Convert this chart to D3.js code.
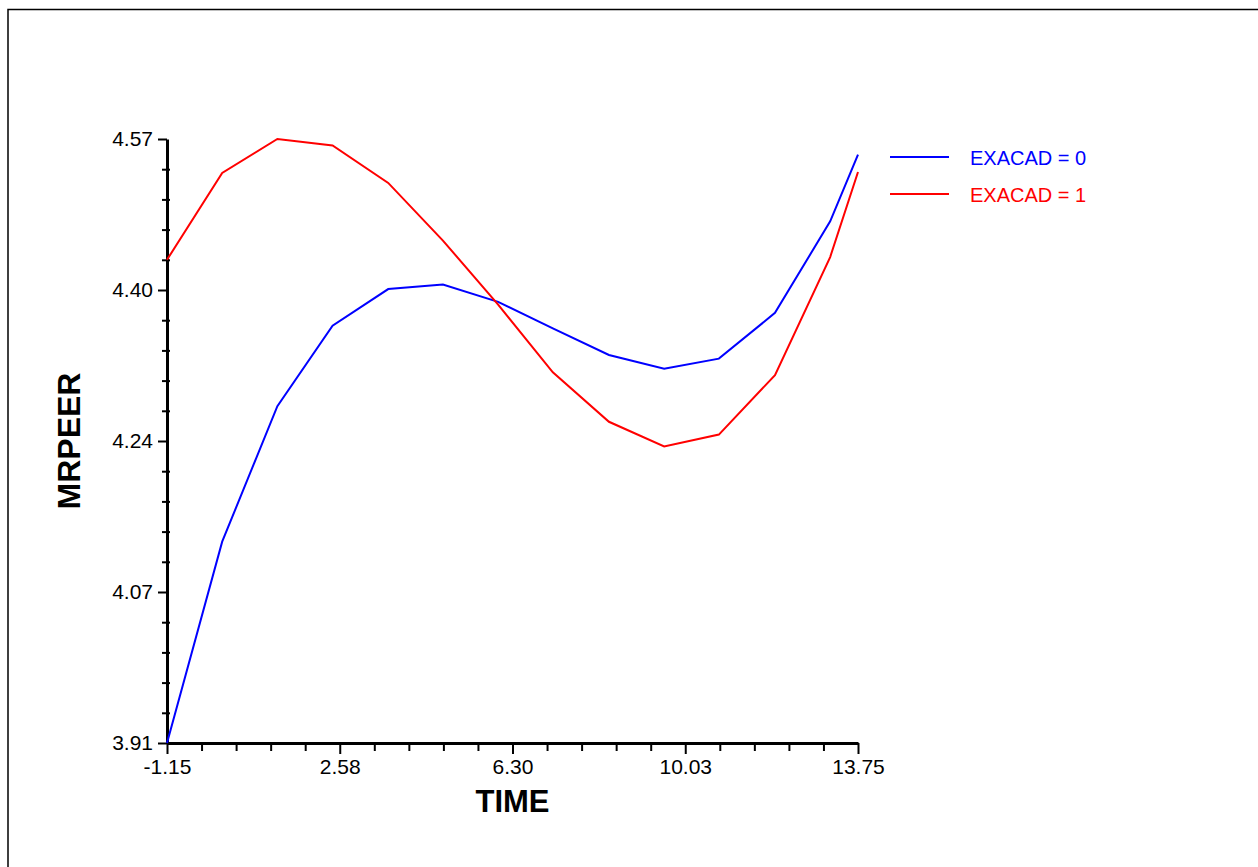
<!DOCTYPE html>
<html>
<head>
<meta charset="utf-8">
<script src="https://cdn.jsdelivr.net/npm/d3@7"></script>
<style>
  body { margin: 0; background: #fff; }
  svg { display: block; font-family: "Liberation Sans", Arial, sans-serif; }
</style>
</head>
<body>
<svg id="chart"></svg>
<script>
// values
const times = [-1.15, 0.04, 1.23, 2.42, 3.62, 4.80, 5.99, 7.17, 8.38, 9.57, 10.75, 11.96, 13.15, 13.75];
const exacad0 = [3.905, 4.125, 4.273, 4.361, 4.401, 4.406, 4.387, 4.358, 4.329, 4.314, 4.325, 4.375, 4.475, 4.548];
const exacad1 = [4.433, 4.528, 4.565, 4.558, 4.517, 4.454, 4.384, 4.310, 4.256, 4.229, 4.242, 4.307, 4.436, 4.529];
const seriesNames = ["EXACAD = 0", "EXACAD = 1"];
const seriesColors = ["#0000ff", "#ff0000"];

const xTicks = [-1.15, 2.575, 6.30, 10.025, 13.75];
const xTickLabels = ["-1.15", "2.58", "6.30", "10.03", "13.75"];
const yTicks = [3.905, 4.07, 4.235, 4.40, 4.565];
const yTickLabels = ["3.91", "4.07", "4.24", "4.40", "4.57"];

const W = 1258, H = 867;
const margin = { left: 167, right: 858, top: 139, bottom: 743 };

const svg = d3.select("#chart").attr("width", W).attr("height", H);

// outer frame (only left / top edges show)
svg.append("rect")
  .attr("x", 8).attr("y", 9.5)
  .attr("width", 1400).attr("height", 1000)
  .attr("fill", "none").attr("stroke", "#000").attr("stroke-width", 1.5);

const xscale = d3.scaleLinear().domain([xTicks[0], xTicks[xTicks.length - 1]]).range([margin.left, margin.right]);
const yscale = d3.scaleLinear().domain([yTicks[0], yTicks[yTicks.length - 1]]).range([margin.bottom, margin.top]);

// minor ticks : 5 steps between major ticks
function minors(ticks) {
  let out = [];
  for (let i = 0; i < ticks.length - 1; i++) {
    const step = (ticks[i + 1] - ticks[i]) / 5;
    for (let k = 1; k < 5; k++) out.push(ticks[i] + step * k);
  }
  return out;
}

// x axis
const xaxis = d3.axisBottom(xscale)
  .tickValues(xTicks)
  .tickFormat((d, i) => xTickLabels[i])
  .tickSize(11).tickPadding(5).tickSizeOuter(0);
const xg = svg.append("g").attr("transform", `translate(0, ${margin.bottom})`).call(xaxis);

const xminor = svg.append("g").attr("transform", `translate(0, ${margin.bottom})`)
  .call(d3.axisBottom(xscale).tickValues(minors(xTicks)).tickSize(8).tickFormat("").tickSizeOuter(0));
xminor.select(".domain").remove();

// y axis
const yaxis = d3.axisLeft(yscale)
  .tickValues(yTicks)
  .tickFormat((d, i) => yTickLabels[i])
  .tickSize(9).tickPadding(5).tickSizeOuter(0);
const yg = svg.append("g").attr("transform", `translate(${margin.left}, 0)`).call(yaxis);

const yminor = svg.append("g").attr("transform", `translate(${margin.left}, 0)`)
  .call(d3.axisLeft(yscale).tickValues(minors(yTicks)).tickSize(5).tickFormat("").tickSizeOuter(0));
yminor.select(".domain").remove();
yminor.selectAll(".tick line").attr("x1", 3);

[xg, yg].forEach(g => {
  g.select(".domain").attr("stroke-width", 3);
  g.selectAll(".tick text").style("font-size", "21px").attr("fill", "#000");
});
svg.selectAll(".tick line").attr("stroke-width", 2);

// series
const line = d3.line()
  .x((d, i) => xscale(times[i]))
  .y(d => yscale(d));

[exacad0, exacad1].forEach((s, i) => {
  svg.append("path")
    .attr("d", line(s))
    .attr("fill", "none")
    .attr("stroke", seriesColors[i])
    .attr("stroke-width", 2);
});

// legend
seriesNames.forEach((name, i) => {
  const y = 157 + i * 37;
  svg.append("line")
    .attr("x1", 890).attr("x2", 949)
    .attr("y1", y).attr("y2", y)
    .attr("stroke", seriesColors[i]).attr("stroke-width", 2);
  svg.append("text")
    .attr("x", 970).attr("y", y + 8)
    .style("font-size", "20px")
    .attr("fill", seriesColors[i])
    .text(name);
});

// axis titles
svg.append("text")
  .attr("x", (margin.left + margin.right) / 2).attr("y", 812)
  .attr("text-anchor", "middle")
  .style("font-size", "31px").style("font-weight", "bold")
  .text("TIME");

svg.append("text")
  .attr("transform", `translate(80, ${(margin.top + margin.bottom) / 2}) rotate(-90)`)
  .attr("text-anchor", "middle")
  .style("font-size", "32px").style("font-weight", "bold")
  .text("MRPEER");
</script>
</body>
</html>
